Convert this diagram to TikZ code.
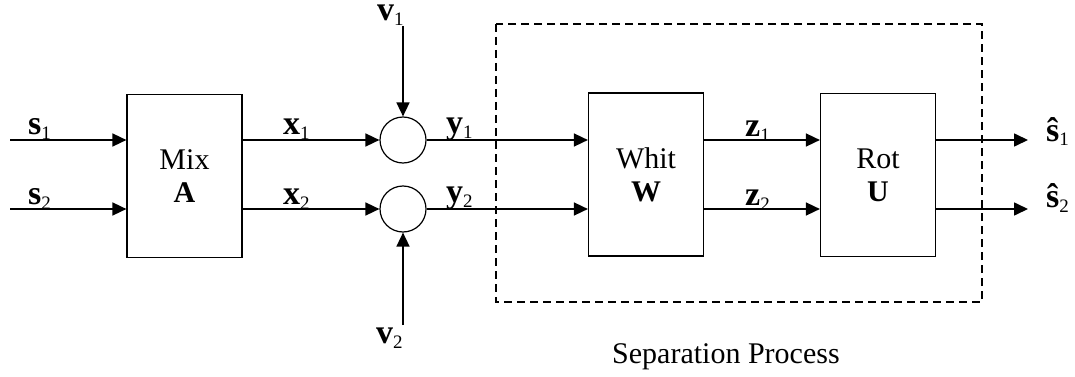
\documentclass[tikz,border=0pt]{standalone}
\usepackage{fontspec}
\setmainfont{Liberation Serif}
\usetikzlibrary{arrows.meta}
\newcommand\sublbl[2]{{\fontsize{34}{34}\selectfont\textbf{#1}}\raisebox{-5pt}{\fontsize{19}{19}\selectfont #2}}
\begin{document}
\begin{tikzpicture}[x=1pt,y=-1pt,
  every node/.style={font=\fontsize{30}{35}\selectfont},
  blockbox/.style={draw,line width=1.2pt,minimum width=115pt,minimum height=163pt,inner sep=0pt,align=center},
  sumcirc/.style={draw,circle,line width=1.2pt,minimum size=46pt,inner sep=0pt},
  arr/.style={line width=1.6pt,-{Triangle[length=14pt,width=13pt]}},
  lbl/.style={anchor=base west,inner sep=0pt},
  sepbox/.style={draw,line width=1.4pt,dash pattern=on 8pt off 5pt}]
\useasboundingbox (0,0) rectangle (1075,377);
% blocks
\node[blockbox] (mix) at (184.5,176) {Mix\\[-2pt]\textbf{A}};
\node[blockbox] (whit) at (646,174.5) {Whit\\[-2pt]\textbf{W}};
\node[blockbox] (rot) at (878,175) {Rot\\[-2pt]\textbf{U}};
\node[sumcirc] (c1) at (403,140) {};
\node[sumcirc] (c2) at (403,209) {};
% separation box
\draw[sepbox] (496,24) rectangle (982,302);
\node[lbl] (septxt) at (612,363) {Separation Process};
% endpoints
\coordinate (s1in) at (10,140);
\coordinate (s2in) at (10,209);
\coordinate (v1top) at (403,26);
\coordinate (v2bot) at (403,325);
\coordinate (o1) at (1028,140);
\coordinate (o2) at (1028,209);
% connectors
\draw[arr] (s1in) -- (s1in -| mix.west);
\draw[arr] (s2in) -- (s2in -| mix.west);
\draw[arr] (mix.east |- c1) -- (c1.west);
\draw[arr] (mix.east |- c2) -- (c2.west);
\draw[arr] (v1top) -- (c1.north);
\draw[arr] (v2bot) -- (c2.south);
\draw[arr] (c1.east) -- (c1 -| whit.west);
\draw[arr] (c2.east) -- (c2 -| whit.west);
\draw[arr] (whit.east |- c1) -- (rot.west |- c1);
\draw[arr] (whit.east |- c2) -- (rot.west |- c2);
\draw[arr] (rot.east |- o1) -- (o1);
\draw[arr] (rot.east |- o2) -- (o2);
% labels
\node[lbl] (ls1) at (28,135) {\sublbl{s}{1}};
\node[lbl] (ls2) at (28,204) {\sublbl{s}{2}};
\node[lbl] (lx1) at (283,135) {\sublbl{x}{1}};
\node[lbl] (lx2) at (283,204) {\sublbl{x}{2}};
\node[lbl] (lv1) at (377,21) {\sublbl{v}{1}};
\node[lbl] (lv2) at (376,343) {\sublbl{v}{2}};
\node[lbl] (ly1) at (446,133) {\sublbl{y}{1}};
\node[lbl] (ly2) at (446,202) {\sublbl{y}{2}};
\node[lbl] (lz1) at (745,136) {\sublbl{z}{1}};
\node[lbl] (lz2) at (745,205) {\sublbl{z}{2}};
\node[lbl] (lo1) at (1046,141) {\sublbl{ŝ}{1}};
\node[lbl] (lo2) at (1046,207) {\sublbl{ŝ}{2}};
\end{tikzpicture}
\end{document}
